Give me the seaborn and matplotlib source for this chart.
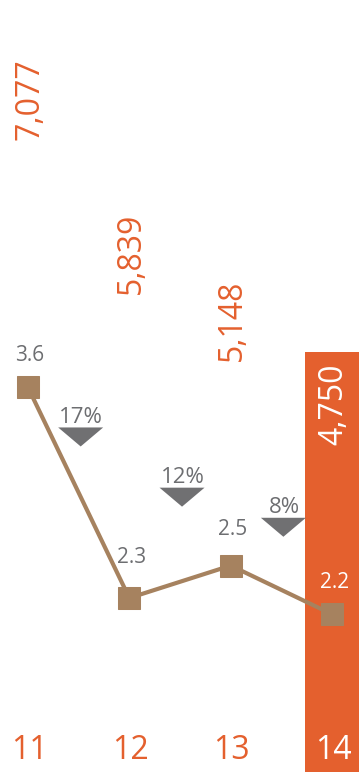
import matplotlib
matplotlib.use("Agg")
import matplotlib.pyplot as plt
import matplotlib.transforms as mtransforms
import seaborn as sns
import pandas as pd

# ---- data ----
years = ["11", "12", "13", "14"]
totals = [7077, 5839, 5148, 4750]
ratio = [3.6, 2.3, 2.5, 2.2]
declines = ["17%", "12%", "8%"]
highlight = [False, False, False, True]

# ---- layout (not data) ----
total_label_shift_pt = [63, 31, 27, -8]      # rotated label top relative to bar top
drop_y_frac = [0.434, 0.356, 0.317]          # vertical position of the decline markers
ratio_label_pt = [19, 25, 22, 19]

sns.set_theme(style="white")
plt.rcParams['font.family'] = ['Open Sans', 'DejaVu Sans']

ORANGE = "#E4602E"
BROWN = "#A6825F"
GRAY = "#6D6E71"
TRI = "#707072"

fig = plt.figure(figsize=(3.6, 7.72), dpi=100)
axb = fig.add_axes([0, 0, 1, 1])
df = pd.DataFrame({"year": years, "total": totals})
pal = {y: (ORANGE if h else "white") for y, h in zip(years, highlight)}
sns.barplot(data=df, x="year", y="total", hue="year", palette=pal, width=0.54,
            legend=False, ax=axb, saturation=1)
for p, h in zip(axb.patches, highlight):
    if not h:
        p.set_alpha(0)
    p.set_edgecolor("none")
axb.set_xlim(-0.276, 3.276)
axb.set_ylim(0, 8730)
axb.axis("off")

for i, (v, h, s) in enumerate(zip(totals, highlight, total_label_shift_pt)):
    axb.annotate(f"{v:,}", xy=(i, v), xytext=(1.5, s), textcoords="offset points",
                 rotation=90, ha="center", va="top", fontsize=23,
                 color="white" if h else ORANGE)

xt = mtransforms.blended_transform_factory(axb.transData, axb.transAxes)
for i, (y, h) in enumerate(zip(years, highlight)):
    axb.text(i + 0.01, 0.0168, y, transform=xt, ha="center", va="baseline",
             fontsize=23, color="white" if h else ORANGE)

axl = fig.add_axes([0, 0, 1, 1])
axl.patch.set_alpha(0)
ld = pd.DataFrame({"x": range(len(ratio)), "r": ratio})
sns.lineplot(data=ld, x="x", y="r", marker="s", markersize=15.5, color=BROWN,
             linewidth=3, markeredgecolor=BROWN, ax=axl)
axl.set_xlim(-0.276, 3.276)
lo, hi = 1.226, 5.991
axl.set_ylim(lo, hi)
axl.axis("off")

for i, (r, h, s) in enumerate(zip(ratio, highlight, ratio_label_pt)):
    axl.annotate(f"{r}", xy=(i, r), xytext=(1.5, s), textcoords="offset points",
                 ha="center", va="baseline", fontsize=15,
                 color="white" if h else GRAY)

tri = [(-22.5, 9.5), (22.5, 9.5), (0, -9.5), (-22.5, 9.5)]
dd = pd.DataFrame({"x": [i + 0.52 for i in range(len(declines))],
                   "y": [lo + f * (hi - lo) for f in drop_y_frac]})
sns.scatterplot(data=dd, x="x", y="y", marker=tri, s=32.4 ** 2, color=TRI,
                edgecolor="none", ax=axl, legend=False)
axl.set_xlim(-0.276, 3.276)
axl.set_ylim(lo, hi)
axl.axis("off")
for (x, y), t in zip(dd.values, declines):
    axl.annotate(t, xy=(x, y), xytext=(0.5, 10), textcoords="offset points",
                 ha="center", va="baseline", fontsize=16, color=GRAY)

fig.savefig("out.png", dpi=100)
